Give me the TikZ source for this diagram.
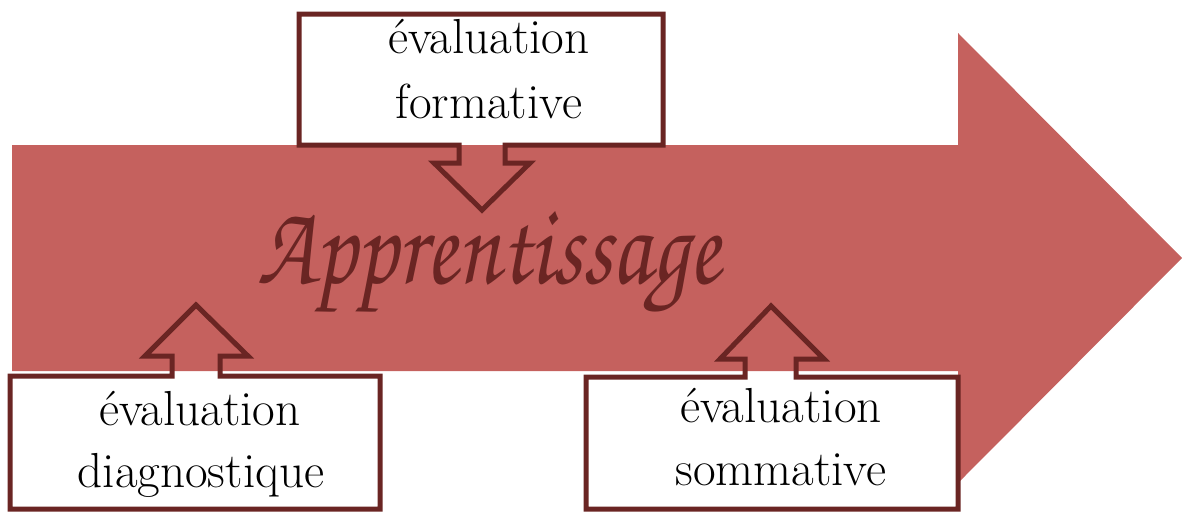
\documentclass[tikz,border=0pt]{standalone}
\usepackage{fontspec}
\newfontfamily\chorus{texgyrechorus-mediumitalic.otf}
\definecolor{arrowred}{RGB}{197,97,94}
\definecolor{darkred}{RGB}{106,37,35}
\begin{document}
\begin{tikzpicture}[x=0.5pt,y=-0.5pt,
  outline/.style={draw=darkred,line width=2.5pt,line join=miter},
  boxtext/.style={align=center,font=\fontsize{24.6}{31.5}\selectfont,text=black,inner sep=0pt},
  title/.style={text=darkred,inner sep=0pt}]
\useasboundingbox (0,0) rectangle (1182,511);
% big arrow
\fill[arrowred] (12,145) -- (958,145) -- (958,33) -- (1182,258) -- (958,483) -- (958,371) -- (12,371) -- cycle;
% formative box
\fill[white] (299,14) rectangle (663,145);
\draw[outline] (459,145) -- (299,145) -- (299,14) -- (663,14) -- (663,145) -- (505,145)
  -- (505,163) -- (530,163) -- (482,210) -- (434,163) -- (459,163) -- cycle;
% diagnostique box
\fill[white] (10,376) rectangle (380,509);
\draw[outline] (172,376) -- (10,376) -- (10,509) -- (380,509) -- (380,376) -- (220,376)
  -- (220,356) -- (248,356) -- (196,305) -- (145,356) -- (172,356) -- cycle;
% sommative box
\fill[white] (586,377) rectangle (958,509);
\draw[outline] (745,377) -- (586,377) -- (586,509) -- (958,509) -- (958,377) -- (796,377)
  -- (796,359) -- (824,359) -- (771,306) -- (720,359) -- (745,359) -- cycle;
% texts
\node[boxtext,anchor=base] (f1) at (489,53) {évaluation};
\node[boxtext,anchor=base] (f2) at (489,118) {formative};
\node[boxtext,anchor=base] (d1) at (200,425) {évaluation};
\node[boxtext,anchor=base] (d2) at (201,487) {diagnostique};
\node[boxtext,anchor=base] (s1) at (781,422) {évaluation};
\node[boxtext,anchor=base] (s2) at (781,485) {sommative};
\node[title,anchor=base] (app) at (489,283) {\resizebox{231pt}{36pt}{\chorus Apprentissage}};
\end{tikzpicture}
\end{document}
